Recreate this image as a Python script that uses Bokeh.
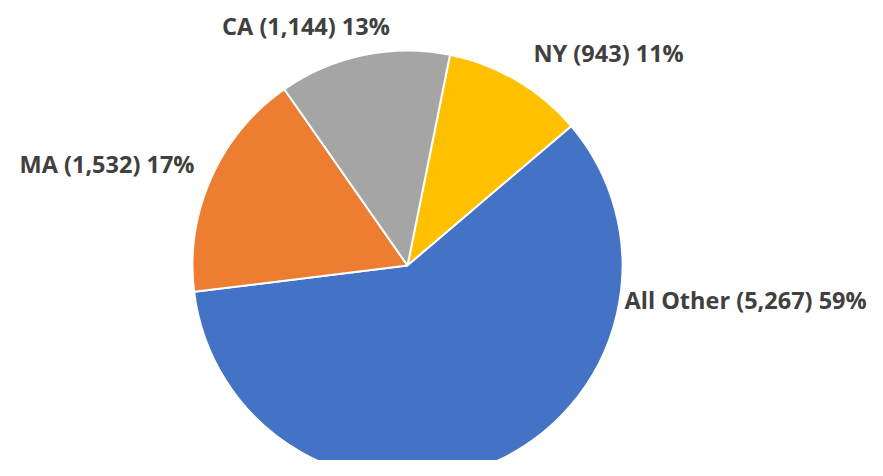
import math
from bokeh.plotting import figure
from bokeh.models import ColumnDataSource, Range1d
from bokeh.core.properties import value
from bokeh.embed import file_html
from bokeh.resources import INLINE

# data (clockwise order starting at the NY slice)
states = ["NY", "All Other", "MA", "CA"]
counts = [943, 5267, 1532, 1144]
colors = ["#FFC000", "#4472C4", "#ED7D31", "#A5A5A5"]

# layout
W, H = 867, 460
cx, cy, R = 407, 195, 215
start_offset_deg = 11.4  # clockwise from 12 o'clock
label_pos = {  # label anchor (x, y) and alignment
    "NY": (533, 407.5, "left"),
    "All Other": (624, 161, "left"),
    "MA": (194, 296.5, "right"),
    "CA": (305.5, 435, "center"),
}

total = sum(counts)
starts, ends = [], []
acc = start_offset_deg
for c in counts:
    sweep = c / total * 360.0
    starts.append(math.radians(90 - acc))
    ends.append(math.radians(90 - (acc + sweep)))
    acc += sweep

src = ColumnDataSource(dict(start=starts, end=ends, color=colors))

p = figure(width=W, height=H, output_backend="svg", toolbar_location=None,
           x_range=Range1d(0, W), y_range=Range1d(0, H), min_border=0)
p.axis.visible = False
p.grid.visible = False
p.outline_line_color = None
p.background_fill_color = "white"

p.wedge(x=cx, y=cy, radius=R, start_angle="start", end_angle="end",
        direction="clock", fill_color="color", line_color="white",
        line_width=2, source=src)

texts, lx, ly, la = [], [], [], []
for s, c in zip(states, counts):
    pct = round(c / total * 100)
    texts.append(f"{s} ({c:,}) {pct}%")
    x, y, a = label_pos[s]
    lx.append(x); ly.append(y); la.append(a)

lsrc = ColumnDataSource(dict(x=lx, y=ly, text=texts, align=la))
p.text(x="x", y="y", text="text", text_align="align", text_baseline="middle",
       text_font=value("Open Sans"), text_font_style="bold",
       text_font_size="23.5px", text_color="#404040", source=lsrc)

open("out.html", "w").write(file_html(p, INLINE))
